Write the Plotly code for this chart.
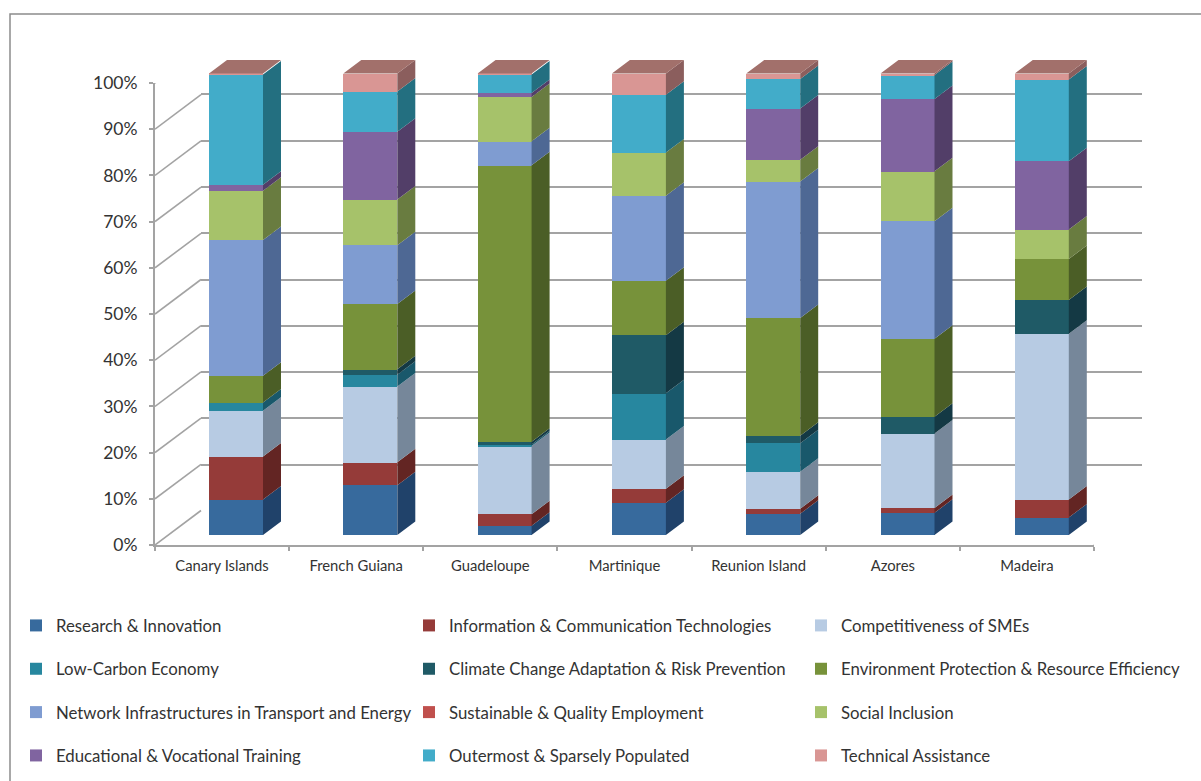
import plotly.graph_objects as go

W, H = 1201, 781

regions = ["Canary Islands", "French Guiana", "Guadeloupe", "Martinique",
           "Reunion Island", "Azores", "Madeira"]

research = [7.7, 10.8, 2.0, 7.0, 4.6, 4.8, 3.8]
ict = [9.3, 4.95, 2.5, 3.0, 1.1, 1.05, 3.9]
smes = [9.9, 16.45, 14.8, 10.7, 8.0, 16.15, 35.9]
low_carbon = [1.8, 2.5, 0.3, 10.0, 6.2, 0, 0]
climate = [0, 1.2, 0.6, 12.6, 1.6, 3.6, 7.3]
environment = [5.8, 14.15, 59.9, 11.8, 25.5, 16.9, 8.9]
network = [29.4, 12.75, 5.2, 18.4, 29.6, 25.5, 0]
employment = [0, 0, 0, 0, 0, 0, 0]
social = [10.7, 9.9, 9.6, 9.4, 4.7, 10.8, 6.4]
education = [1.3, 14.7, 0.9, 0, 11.1, 15.7, 14.8]
outermost = [23.9, 8.7, 4.0, 12.5, 6.4, 5.2, 17.7]
technical = [0.2, 3.9, 0.2, 4.6, 1.2, 0.3, 1.3]

names = ["Research & Innovation", "Information & Communication Technologies",
         "Competitiveness of SMEs", "Low-Carbon Economy",
         "Climate Change Adaptation & Risk Prevention",
         "Environment Protection & Resource Efficiency",
         "Network Infrastructures in Transport and Energy",
         "Sustainable & Quality Employment", "Social Inclusion",
         "Educational & Vocational Training",
         "Outermost & Sparsely Populated", "Technical Assistance"]
series = [research, ict, smes, low_carbon, climate, environment, network,
          employment, social, education, outermost, technical]
front_colors = ["#376A9D", "#953B39", "#B7CBE3", "#27879F", "#1F5A66", "#77923A",
                "#7F9CD1", "#C0504D", "#A6C26A", "#8064A0", "#42ACC9", "#D99694"]
side_colors = ["#20426A", "#632523", "#76879A", "#19586B", "#143944", "#4B5E26",
               "#4E6894", "#7F3331", "#697C40", "#523E68", "#236F80", "#8B5E5D"]
top_color = "#A2706B"
axis_color = "#A3A3A3"
text_color = "#333333"
y_ticks = [0, 10, 20, 30, 40, 50, 60, 70, 80, 90, 100]
y_tick_labels = ["0%", "10%", "20%", "30%", "40%", "50%", "60%", "70%", "80%", "90%", "100%"]


def fx(px):
    return px / W


def fy(px):
    return 1 - px / H


bar_width = 54 / 134.3
side_dx = 18 / 134.3
side_dy = 13.5 / 4.615
wall_dx = 46 / 134.14
wall_dy = 34.5 / 4.62
bar_y_top = 106  # headroom so the top faces stay inside the subplot

fig = go.Figure()

# Back wall: only its gridlines, from a subplot of its own, drawn first
fig.add_trace(go.Scatter(x=[0], y=[0], xaxis="x", yaxis="y", mode="none",
                         showlegend=False, hoverinfo="skip"))

# Slanted wall and floor lines, on the front-plane axes
sx, sy = [], []
for t in y_ticks:
    sx += [-0.5, -0.5 + wall_dx, None]
    sy += [t, t + wall_dy, None]
sx += [6.5, 6.5 + wall_dx, None]
sy += [0, wall_dy, None]
fig.add_trace(go.Scatter(x=sx, y=sy, xaxis="x2", yaxis="y2", mode="lines",
                         line=dict(color=axis_color, width=1.6), cliponaxis=False,
                         showlegend=False, hoverinfo="skip"))

# Legend columns: reference reads row by row across three columns
legend_ids = ["legend", "legend2", "legend3"]
positions = list(range(len(regions)))
for s, (name, values) in enumerate(zip(names, series)):
    fig.add_trace(go.Bar(x=positions, y=values, name=name, xaxis="x3", yaxis="y3",
                         width=bar_width, marker=dict(color=front_colors[s], line=dict(width=0)),
                         legend=legend_ids[s % 3], legendgroup=name))

# Side faces, one polygon per stacked segment
bottoms = [0.0] * len(regions)
for s, values in enumerate(series):
    px_, py_ = [], []
    for i, v in enumerate(values):
        b = bottoms[i]
        if v > 0:
            xr = i + bar_width / 2
            px_ += [xr, xr + side_dx, xr + side_dx, xr, xr, None]
            py_ += [b, b + side_dy, b + v + side_dy, b + v, b, None]
        bottoms[i] = b + v
    fig.add_trace(go.Scatter(x=px_, y=py_, xaxis="x3", yaxis="y3", mode="lines",
                             fill="toself", fillcolor=side_colors[s],
                             line=dict(width=0, color=side_colors[s]), cliponaxis=False,
                             showlegend=False, hoverinfo="skip"))

# Top faces
tx, ty = [], []
for i, t in enumerate(bottoms):
    xl, xr = i - bar_width / 2, i + bar_width / 2
    tx += [xl, xr, xr + side_dx, xl + side_dx, xl, None]
    ty += [t, t, t + side_dy, t + side_dy, t, None]
fig.add_trace(go.Scatter(x=tx, y=ty, xaxis="x3", yaxis="y3", mode="lines",
                         fill="toself", fillcolor=top_color,
                         line=dict(width=0, color=top_color), cliponaxis=False,
                         showlegend=False, hoverinfo="skip"))

hidden = dict(showticklabels=False, ticks="", showline=False, zeroline=False)
slots = [i - 0.5 for i in range(len(regions) + 1)]
legend_base = dict(orientation="v", xanchor="left", yanchor="top", y=fy(608),
                   bgcolor="rgba(0,0,0,0)", borderwidth=0, tracegroupgap=18.5,
                   font=dict(family="Lato", size=16.8, color=text_color),
                   itemclick=False, itemdoubleclick=False)

fig.update_layout(
    width=W, height=H, margin=dict(l=0, r=0, t=0, b=0, autoexpand=False),
    paper_bgcolor="white", plot_bgcolor="rgba(0,0,0,0)",
    barmode="stack", bargap=0,
    xaxis=dict(domain=[fx(201), fx(1141.5)], range=[0, 1], showgrid=False, anchor="y", **hidden),
    yaxis=dict(domain=[fy(511), fy(48)], range=[0, 100], tickvals=y_ticks, showgrid=True,
               gridcolor=axis_color, gridwidth=1.6, anchor="x", **hidden),
    xaxis2=dict(domain=[fx(155), fx(1094)], range=[-0.5, 6.5], anchor="y2",
                tickvals=positions, ticktext=regions, ticks="", showgrid=False, zeroline=False,
                showline=True, linecolor=axis_color, linewidth=2, ticklabelstandoff=6,
                minor=dict(tickvals=slots, ticks="outside", ticklen=4, tickcolor=axis_color, tickwidth=1.5),
                tickfont=dict(family="Lato", size=14.8, color=text_color)),
    yaxis2=dict(domain=[fy(545), fy(83)], range=[0, 100], anchor="x2", tickvals=y_ticks,
                ticktext=y_tick_labels, ticks="outside", ticklen=4, tickcolor=axis_color, tickwidth=1.5,
                showgrid=False, zeroline=False, showline=True, linecolor=axis_color, linewidth=2,
                ticklabelstandoff=8, tickfont=dict(family="Lato", size=17.5, color=text_color)),
    xaxis3=dict(domain=[fx(168.85), fx(1108.95)], range=[-0.5, 6.5], showgrid=False,
                anchor="y3", **hidden),
    yaxis3=dict(domain=[fy(535), fy(535 - bar_y_top * 4.615)], range=[0, bar_y_top],
                showgrid=False, anchor="x3", **hidden),
    legend=dict(x=fx(16), **legend_base),
    legend2=dict(x=fx(409), **legend_base),
    legend3=dict(x=fx(801), **legend_base),
    shapes=[dict(type="rect", xref="paper", yref="paper", x0=fx(10), x1=1.05,
                 y0=-0.05, y1=fy(14), line=dict(color="#8C8C8C", width=1.5), layer="below")],
)

fig.write_html("out.html", post_script="document.body.style.margin='0';",
               config=dict(displayModeBar=False))
